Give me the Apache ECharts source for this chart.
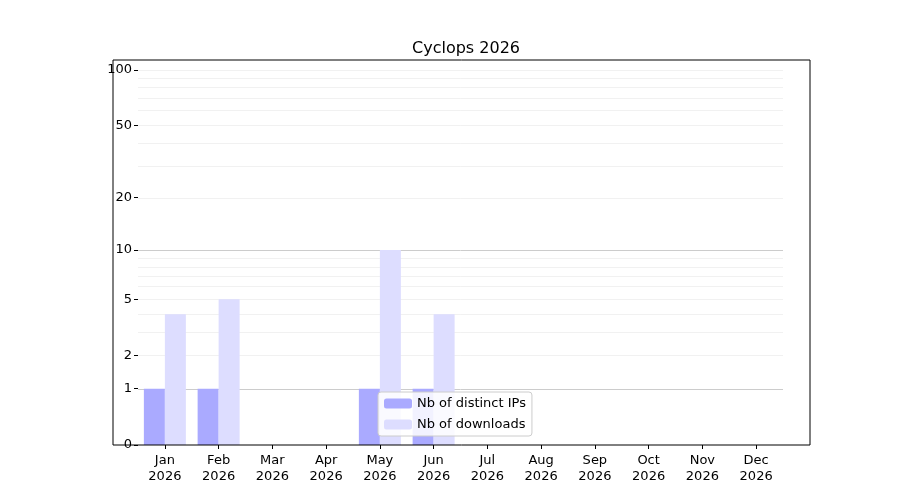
<!DOCTYPE html>
<html><head><meta charset="utf-8">
<script src="https://cdn.jsdelivr.net/npm/echarts@6/dist/echarts.min.js"></script>
<style>html,body{margin:0;padding:0;background:#fff}#c{width:900px;height:500px}</style>
</head><body><div id="c"></div>
<script>
const months = ['Jan','Feb','Mar','Apr','May','Jun','Jul','Aug','Sep','Oct','Nov','Dec'];
const year = '2026';
const distinctIPs = [1,1,0,0,1,1,0,0,0,0,0,0];
const downloads = [4,5,0,0,10,4,0,0,0,0,0,0];
const yTicks = [0,1,2,5,10,20,50,100];
const majorGrid = [1,10];
const minorGrid = [2,3,4,5,6,7,8,9,20,30,40,50,60,70,80,90,100];
const yMaxValue = 113;

const tf = v => Math.log10(1 + v);
const inv = t => Math.round(Math.pow(10, t) - 1);
const font = 'DejaVu Sans';
const chart = echarts.init(document.getElementById('c'));
const gridLines = majorGrid.map(v => ({yAxis: tf(v), lineStyle:{color:'#cccccc', width:1, type:'solid'}}))
  .concat(minorGrid.map(v => ({yAxis: tf(v), lineStyle:{color:'#eeeeee', width:0.8, type:'solid'}})));
chart.setOption({
  animation:false,
  title:{text:'Cyclops '+year, left:461, top:36, textAlign:'center',
    textStyle:{fontFamily:font, fontSize:16, fontWeight:'normal', color:'#000'}},
  graphic:[{type:'rect', shape:{x:113, y:60, width:697, height:385}, z:100, silent:true,
    style:{fill:'none', stroke:'#000', lineWidth:1}}],
  grid:{left:138, right:117, top:60, bottom:55},
  legend:{orient:'vertical', left:378, top:392, itemWidth:28, itemHeight:10, itemGap:8,
    padding:[5,6,5,6], backgroundColor:'rgba(255,255,255,0.85)', borderColor:'#ccc', borderWidth:1, borderRadius:3,
    textStyle:{fontFamily:font, fontSize:13, color:'#000'},
    data:['Nb of distinct IPs','Nb of downloads']},
  xAxis:{type:'category', data:months,
    axisLine:{show:false}, axisTick:{show:true, alignWithLabel:true, length:4, lineStyle:{color:'#000'}},
    axisLabel:{fontFamily:font, fontSize:13, color:'#000', lineHeight:16, margin:8,
      formatter: m => m + '\n' + year}},
  yAxis:{type:'value', min:0, max:tf(yMaxValue),
    axisLine:{show:false}, splitLine:{show:false},
    axisTick:{show:true, length:4, lineStyle:{color:'#000'}, customValues: yTicks.map(tf)},
    axisLabel:{fontFamily:font, fontSize:13, color:'#000', margin:26-20,
      customValues: yTicks.map(tf), formatter: v => String(inv(v))}},
  series:[
    {name:'Nb of distinct IPs', type:'bar', barWidth:21, barGap:'0%',
      itemStyle:{color:'#aaaaff'}, data: distinctIPs.map(tf),
      markLine:{silent:true, symbol:'none', label:{show:false}, z:0, data:gridLines}},
    {name:'Nb of downloads', type:'bar', barWidth:21,
      itemStyle:{color:'#ddddff'}, data: downloads.map(tf)}
  ]
});
</script></body></html>
